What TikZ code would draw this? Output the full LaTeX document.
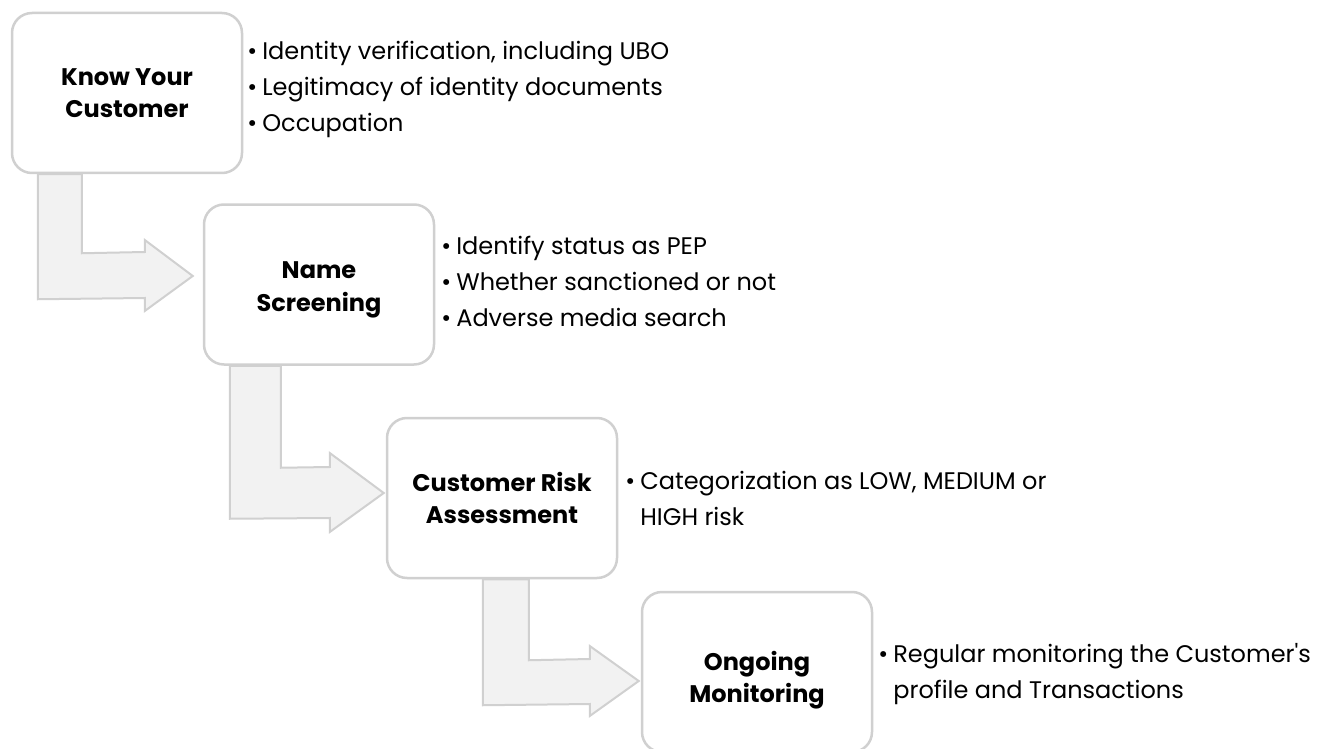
\documentclass[tikz,border=0pt]{standalone}
\usepackage{fontspec}
\setmainfont{Poppins}
\usetikzlibrary{calc,backgrounds}

\definecolor{edgegray}{HTML}{D0D0D0}
\definecolor{flowfill}{HTML}{F2F2F2}

\newcommand{\bul}{•\hspace{5pt}}
\newcommand{\bulgap}{\phantom{•}\hspace{5pt}}
% two centred title lines, lowered by #1 without changing the box size
\newcommand{\lowtitle}[3]{\raisebox{-#1}[\height][\depth]{\begin{tabular}{@{}c@{}}#2\\#3\end{tabular}}}

\tikzset{
  stage/.style={draw=edgegray, line width=2.5pt, fill=white, rounded corners=20pt,
    minimum width=230pt, minimum height=160pt, align=center, inner sep=0pt,
    font=\fontsize{24}{32.5}\selectfont\bfseries},
  notes/.style={anchor=west, align=left, inner sep=0pt,
    font=\fontsize{24}{36}\selectfont},
  flow/.style={draw=edgegray, line width=2pt, fill=flowfill, line join=miter}
}

\begin{document}
\begin{tikzpicture}[x=1pt,y=-1pt]
\useasboundingbox (0,0) rectangle (1323,749);
\clip (0,0) rectangle (1323,749);

% stage boxes
\node[stage] (kyc) at (127,93) {Know Your\\Customer};
\node[stage] (ns)  at (319,284.5) {\lowtitle{4pt}{Name}{Screening}};
\node[stage] (cra) at (502,498) {Customer Risk\\Assessment};
\node[stage] (om)  at (757,672) {\lowtitle{8pt}{Ongoing}{Monitoring}};

% bent arrows between consecutive stages, kept beneath the boxes
\begin{scope}[on background layer]
\draw[flow] ($(kyc.south west)+(27,0)$) -- ($(kyc.south west)+(71,0)$)
  -- ($(kyc.south west)+(71,79)$) -- ($(ns.west)+(-58,-32.5)$)
  -- ($(ns.west)+(-58,-44.5)$) -- ($(ns.west)+(-10,-8.5)$)
  -- ($(ns.west)+(-58,26.5)$) -- ($(ns.west)+(-58,13.5)$)
  -- ($(kyc.south west)+(27,125)$) -- cycle;

\draw[flow] ($(ns.south west)+(27,0)$) -- ($(ns.south west)+(78,0)$)
  -- ($(ns.south west)+(78,102)$) -- ($(cra.west)+(-56,-31)$)
  -- ($(cra.west)+(-56,-45)$) -- ($(cra.west)+(-2,-5)$)
  -- ($(cra.west)+(-56,34)$) -- ($(cra.west)+(-56,20)$)
  -- ($(ns.south west)+(27,153)$) -- cycle;

\draw[flow] ($(cra.south west)+(97,0)$) -- ($(cra.south west)+(143,0)$)
  -- ($(cra.south west)+(143,81)$) -- ($(om.west)+(-51,-13)$)
  -- ($(om.west)+(-51,-26)$) -- ($(om.west)+(-2,9)$)
  -- ($(om.west)+(-51,44)$) -- ($(om.west)+(-51,32)$)
  -- ($(cra.south west)+(97,126)$) -- cycle;
\end{scope}

% bullet notes
\node[notes] (kycnotes) at ($(kyc.east)+(4,-4)$)
  {\bul Identity verification, including UBO\\\bul Legitimacy of identity documents\\\bul Occupation};
\node[notes] (nsnotes) at ($(ns.east)+(6,-3)$)
  {\bul Identify status as PEP\\\bul Whether sanctioned or not\\\bul Adverse media search};
\node[notes] (cranotes) at ($(cra.east)+(7,0)$)
  {\bul Categorization as LOW, MEDIUM or\\\bulgap HIGH risk};
\node[notes] (omnotes) at ($(om.east)+(5,2)$)
  {\bul Regular monitoring the Customer\textquotesingle s\\\bulgap profile and Transactions};
\end{tikzpicture}
\end{document}
